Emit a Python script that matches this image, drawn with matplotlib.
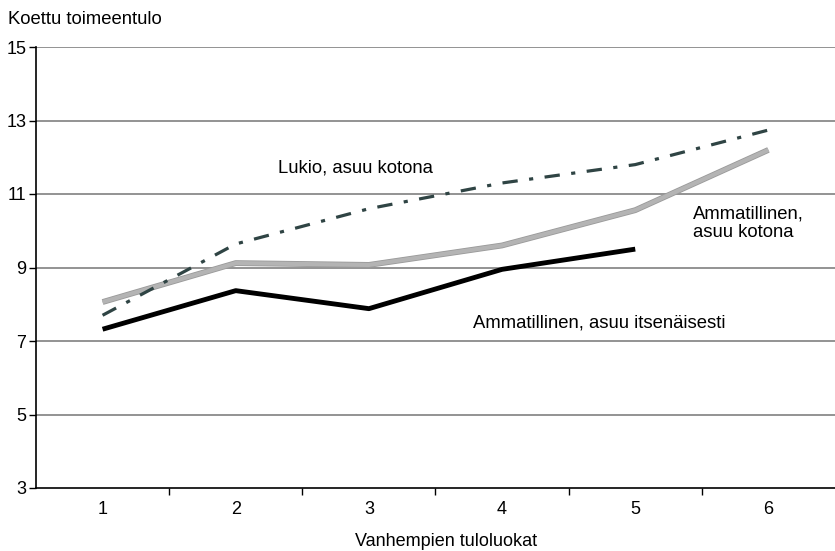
import matplotlib
matplotlib.use("Agg")
import matplotlib.pyplot as plt
import matplotlib.patheffects as pe

categories = ["1", "2", "3", "4", "5", "6"]
lukio_kotona = [7.7, 9.64, 10.6, 11.3, 11.8, 12.74]
amm_kotona = [8.06, 9.12, 9.07, 9.6, 10.56, 12.2]
amm_itsenainen = [7.32, 8.37, 7.88, 8.95, 9.5]
y_ticks = [3, 5, 7, 9, 11, 13, 15]

plt.rcParams['font.family'] = ['Liberation Sans', 'DejaVu Sans']

fig = plt.figure(figsize=(8.35, 5.51), dpi=100)
ax = fig.add_axes([36/835, 1-488/551, (835-36)/835, (488-47)/551])

x = list(range(len(categories)))
ax.plot(x, amm_kotona, color="#b4b4b4", lw=3.0, solid_capstyle='butt',
        path_effects=[pe.Stroke(linewidth=4.2, foreground="#9a9a9a"), pe.Normal()], zorder=3)
ax.plot(x[:len(amm_itsenainen)], amm_itsenainen, color="black", lw=3.5, solid_capstyle='butt', zorder=4)
ax.plot(x, lukio_kotona, color="#2f4444", lw=2.3, dashes=(4.8, 3.6, 1.3, 3.6), zorder=5)

ax.set_xlim(-0.5, len(categories) - 0.5)
ax.set_ylim(3, 15)
ax.set_yticks(y_ticks)
ax.set_yticklabels([str(v) for v in y_ticks], fontsize=13)
ax.set_xticks(x)
ax.set_xticklabels(categories, fontsize=13)
ax.set_xticks([i + 0.5 for i in x[:-1]], minor=True)
ax.tick_params(axis='x', which='major', length=0, pad=9)
ax.tick_params(axis='x', which='minor', length=5, direction='out', width=1)
ax.tick_params(axis='y', length=5, direction='out', width=1, pad=2)

for yv in y_ticks[1:]:
    ax.axhline(yv, color="#808080", lw=1.2, zorder=1)

for s in ["top", "right"]:
    ax.spines[s].set_visible(False)
ax.spines["left"].set_linewidth(1.2)
ax.spines["bottom"].set_linewidth(1.2)

fs = 13.3
ax.text(1.32, 11.72, "Lukio, asuu kotona", fontsize=fs, ha='left', va='center')
ax.text(4.43, 10.2, "Ammatillinen,\nasuu kotona", fontsize=fs, ha='left', va='center', linespacing=1.1)
ax.text(2.78, 7.5, "Ammatillinen, asuu itsenäisesti", fontsize=fs, ha='left', va='center')

fig.text(8/835, 1-20/551, "Koettu toimeentulo", fontsize=fs, ha='left', va='center')
fig.text(446/835, 1-541/551, "Vanhempien tuloluokat", fontsize=13, ha='center', va='center')

fig.savefig("out.png", dpi=100)
